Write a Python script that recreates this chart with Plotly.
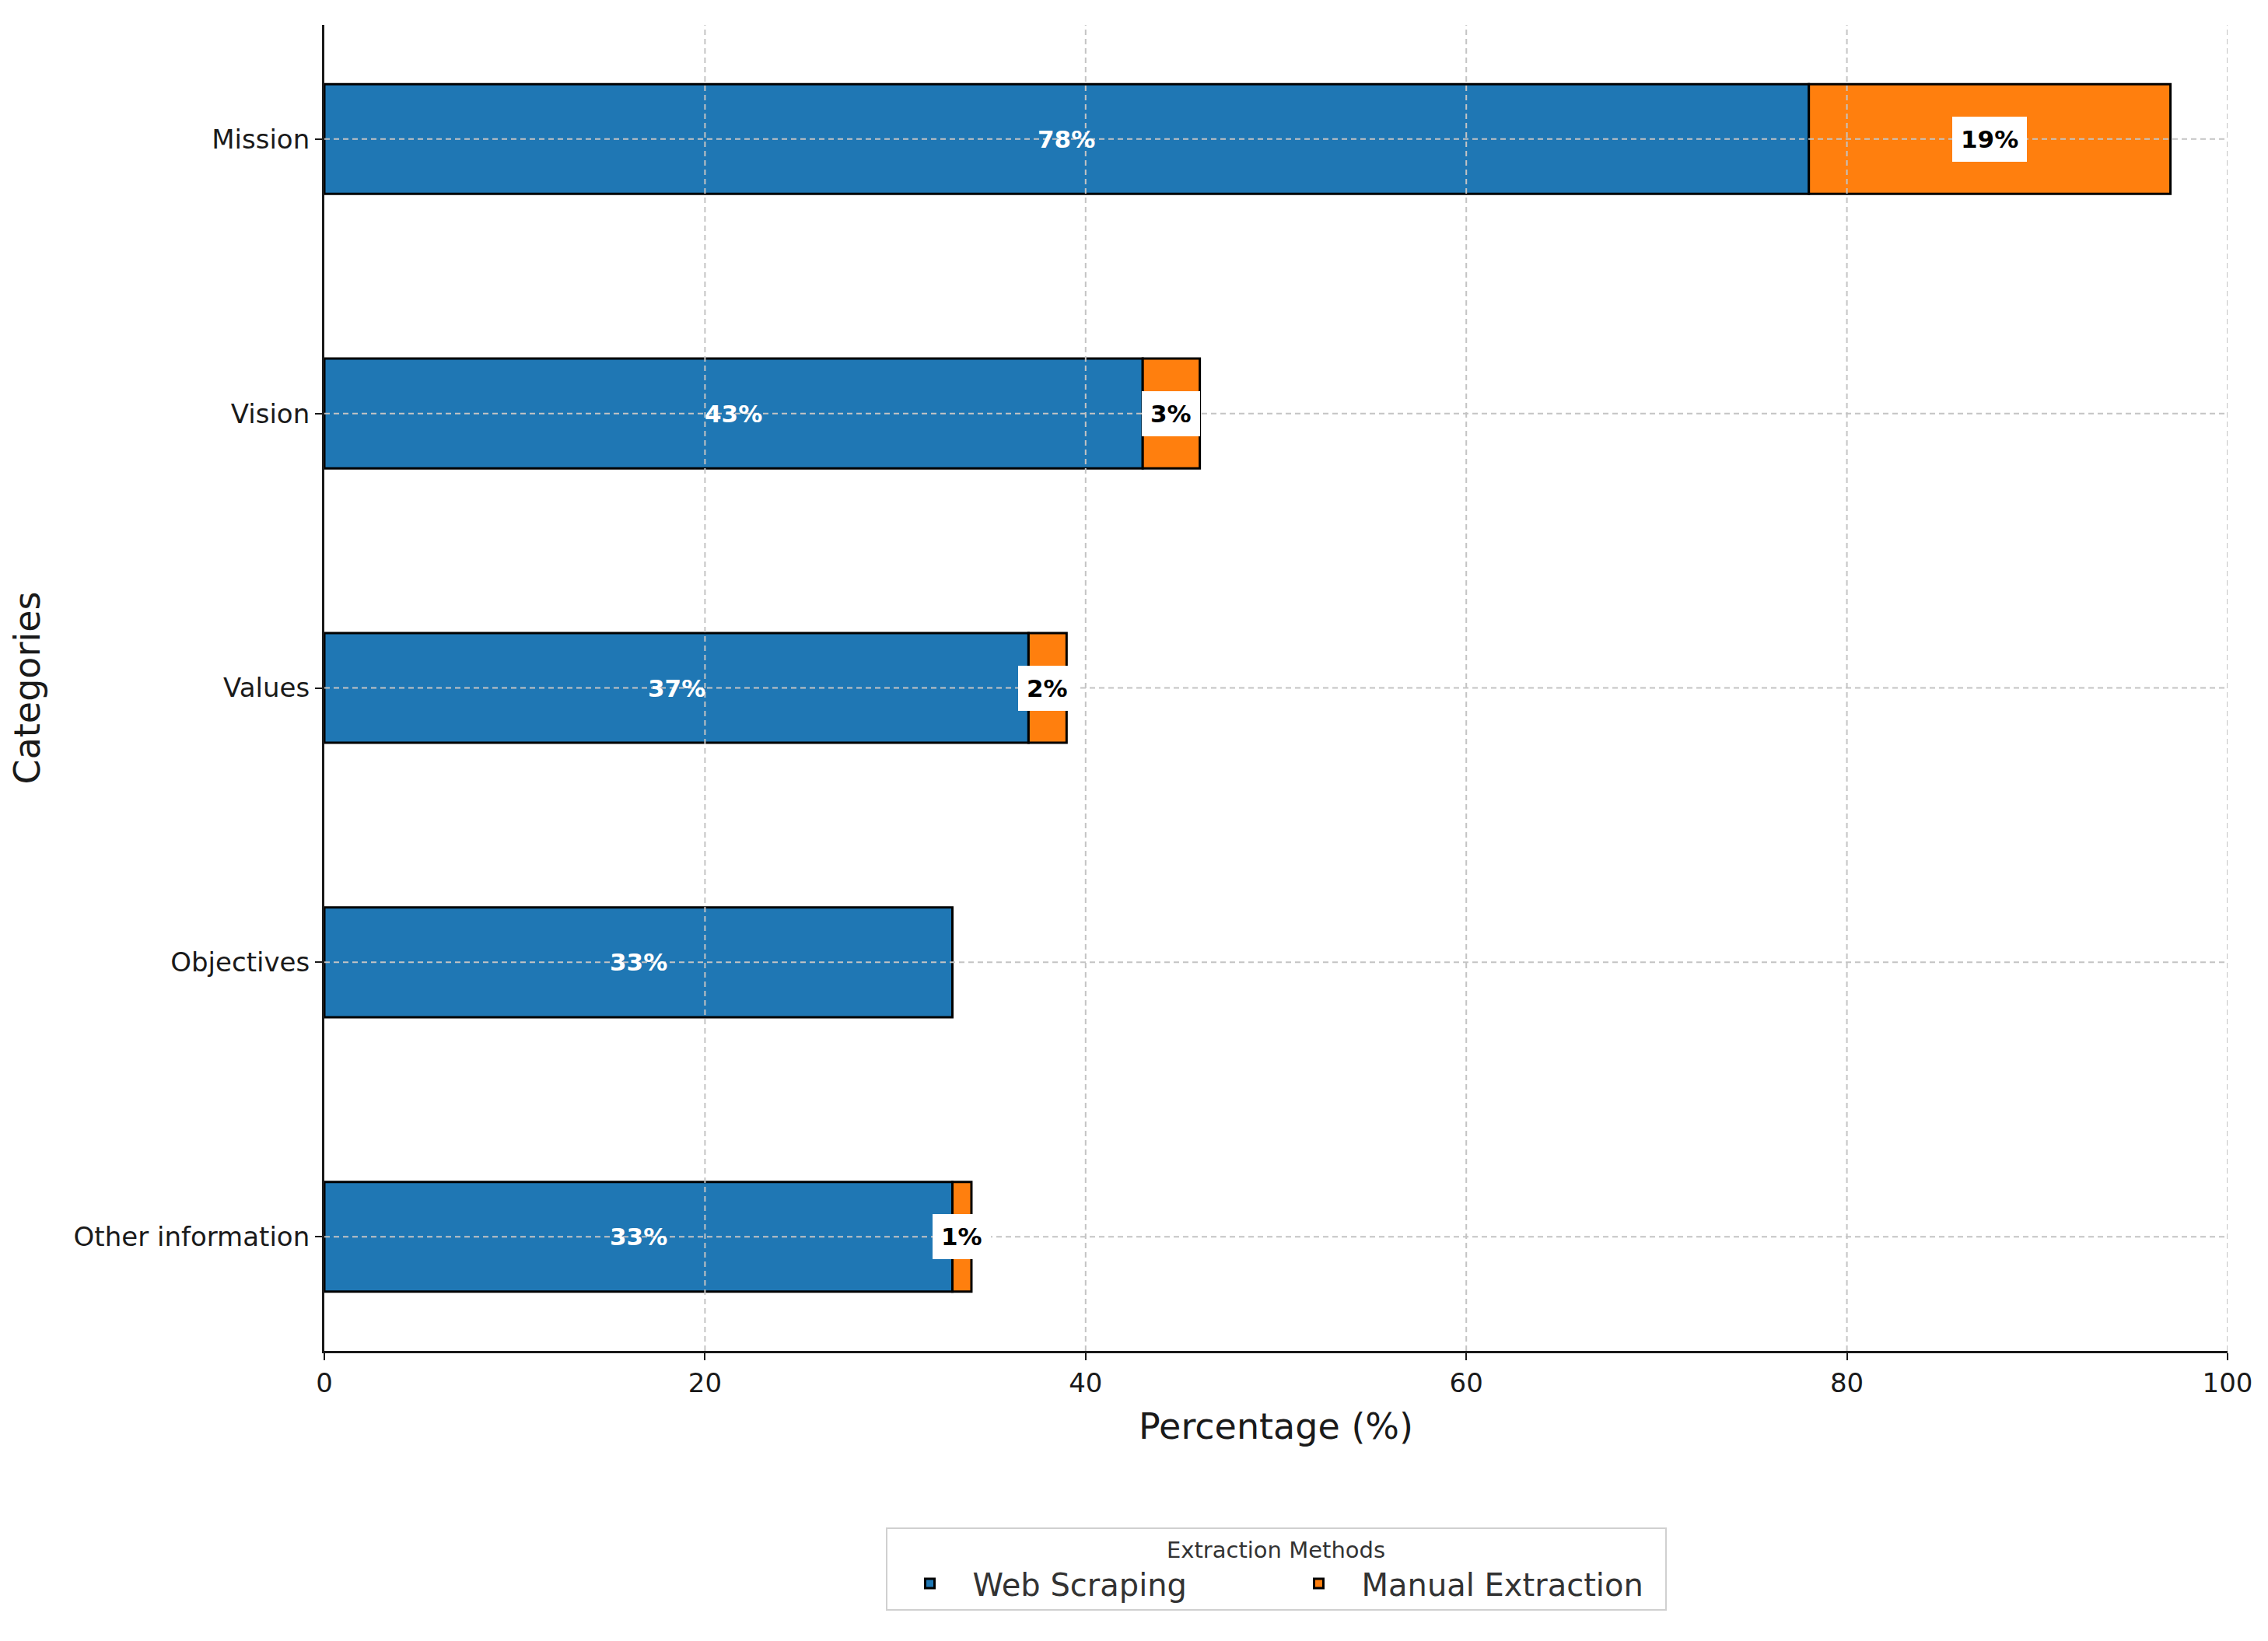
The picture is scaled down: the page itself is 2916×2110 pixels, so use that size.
import plotly.graph_objects as go

categories = ["Mission", "Vision", "Values", "Objectives", "Other information"]
web_scraping = [78, 43, 37, 33, 33]
manual_extraction = [19, 3, 2, 0, 1]
x_ticks = [0, 20, 40, 60, 80, 100]

BLUE = "#1f77b4"
ORANGE = "#ff7f0e"
FONT = "DejaVu Sans"
GRID = "#c4c4c4"

fig = go.Figure()
fig.add_trace(go.Bar(
    y=categories, x=web_scraping, orientation="h", name="Web Scraping",
    marker=dict(color=BLUE, line=dict(color="black", width=3)), width=0.4,
))
fig.add_trace(go.Bar(
    y=categories, x=manual_extraction, orientation="h", name="Manual Extraction",
    base=web_scraping,
    marker=dict(color=ORANGE, line=dict(color="black", width=3)), width=0.4,
))

# grid lines drawn above bars (as in the reference)
for t in x_ticks[1:]:
    fig.add_shape(type="line", xref="x", yref="paper", x0=t, x1=t, y0=0, y1=1,
                  line=dict(color=GRID, width=2, dash="7px,5px"), layer="above")
for c in categories:
    fig.add_shape(type="line", xref="paper", yref="y", x0=0, x1=1, y0=c, y1=c,
                  line=dict(color=GRID, width=2, dash="7px,5px"), layer="above")

for c, w, m in zip(categories, web_scraping, manual_extraction):
    fig.add_annotation(x=w / 2, y=c, text=f"{w}%", showarrow=False,
                       font=dict(family=FONT, size=31, color="white", weight="bold"))
    if m > 0:
        fig.add_annotation(x=w + m / 2, y=c, text=f"{m}%", showarrow=False,
                           font=dict(family=FONT, size=31, color="black", weight="bold"),
                           bgcolor="white", borderpad=11, borderwidth=0)

fig.update_layout(
    width=2916, height=2110,
    margin=dict(l=409, r=60, t=24, b=381),
    plot_bgcolor="white", paper_bgcolor="white",
    barmode="overlay",
    font=dict(family=FONT, size=34, color="#1a1a1a"),
    showlegend=True,
    legend=dict(
        orientation="h", x=0.5, xanchor="center", y=-0.133, yanchor="top",
        title=dict(text="Extraction Methods", side="top center",
                   font=dict(family=FONT, size=29, color="#333333")),
        font=dict(family=FONT, size=40, color="#333333"),
        bordercolor="#d0d0d0", borderwidth=2, bgcolor="white",
        traceorder="normal", itemwidth=100,
        entrywidth=385, entrywidthmode="pixels",
    ),
    xaxis=dict(
        range=[0, 100], tickvals=x_ticks, showgrid=False, zeroline=False,
        showline=True, linecolor="#1a1a1a", linewidth=3,
        ticks="outside", ticklen=9, tickwidth=2, tickcolor="#1a1a1a",
        tickfont=dict(size=34),
        title=dict(text="Percentage (%)", font=dict(size=46), standoff=22),
    ),
    yaxis=dict(
        categoryorder="array", categoryarray=categories[::-1],
        range=[-0.416, 4.416], showgrid=False, zeroline=False,
        showline=True, linecolor="#1a1a1a", linewidth=3,
        ticks="outside", ticklen=9, tickwidth=2, tickcolor="#1a1a1a",
        tickfont=dict(size=34),
        title=dict(text="Categories", font=dict(size=46), standoff=32),
    ),
)

fig.write_html("out.html")
